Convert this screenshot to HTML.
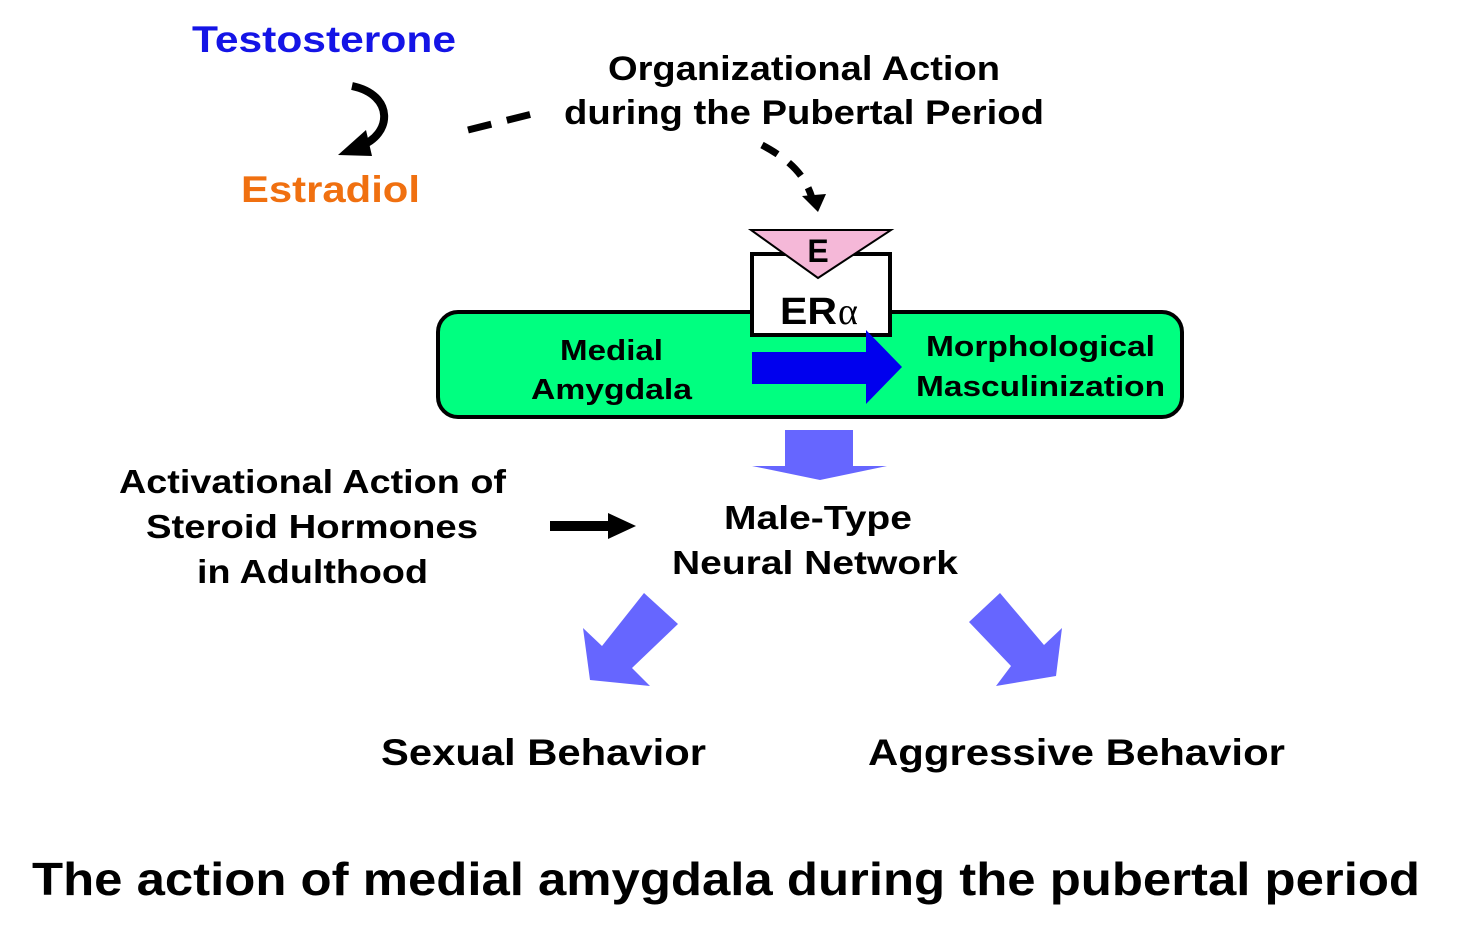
<!DOCTYPE html>
<html><head><meta charset="utf-8"><style>
body{margin:0;background:#fff;}
svg text{font-family:"Liberation Sans",Arial,sans-serif;font-weight:bold;}
</style></head><body>
<svg width="1465" height="937" viewBox="0 0 1465 937" xmlns="http://www.w3.org/2000/svg">
<text x="192" y="52" font-size="37" fill="#1414e6" textLength="264" lengthAdjust="spacingAndGlyphs">Testosterone</text>
<text x="241" y="202" font-size="37" fill="#f07010" textLength="179" lengthAdjust="spacingAndGlyphs">Estradiol</text>
<path d="M352,86 C395,95 392,135 360,146" fill="none" stroke="#000" stroke-width="8"/>
<polygon points="338,155 366,130 372,156" fill="#000"/>
<line x1="468" y1="130" x2="532" y2="114" stroke="#000" stroke-width="7" stroke-dasharray="24,16"/>
<text x="608" y="80" font-size="34" fill="#000" textLength="392" lengthAdjust="spacingAndGlyphs">Organizational Action</text>
<text x="564" y="124" font-size="34" fill="#000" textLength="480" lengthAdjust="spacingAndGlyphs">during the Pubertal Period</text>
<path d="M762,145 C790,160 805,175 812,198" fill="none" stroke="#000" stroke-width="7" stroke-dasharray="18,14"/>
<polygon points="802,196 826,194 818,212" fill="#000"/>
<rect x="438" y="312" width="744" height="105" rx="20" fill="#00ff80" stroke="#000" stroke-width="4"/>
<rect x="752" y="254" width="138" height="81" fill="#fff" stroke="#000" stroke-width="4"/>
<polygon points="751,230 891,230 818,278" fill="#f5b8d8" stroke="#000" stroke-width="2"/>
<text x="818" y="262" font-size="32" fill="#000" text-anchor="middle">E</text>
<text x="780" y="324" font-size="38" fill="#000" textLength="57" lengthAdjust="spacingAndGlyphs">ER</text><text x="838" y="324" font-size="38" fill="#000" style="font-family:'Liberation Serif',serif;font-weight:normal">α</text>
<text x="560" y="360" font-size="29" fill="#000" textLength="103" lengthAdjust="spacingAndGlyphs">Medial</text>
<text x="531" y="399" font-size="29" fill="#000" textLength="161" lengthAdjust="spacingAndGlyphs">Amygdala</text>
<text x="926" y="356" font-size="29" fill="#000" textLength="229" lengthAdjust="spacingAndGlyphs">Morphological</text>
<text x="916" y="396" font-size="29" fill="#000" textLength="249" lengthAdjust="spacingAndGlyphs">Masculinization</text>
<polygon points="752,352 866,352 866,330 902,367 866,404 866,384 752,384" fill="#0000ee"/>
<polygon points="785,430 853,430 853,466 887,466 820,480 752,466 785,466" fill="#6666ff"/>
<text x="119" y="493" font-size="33" fill="#000" textLength="387" lengthAdjust="spacingAndGlyphs">Activational Action of</text>
<text x="146" y="538" font-size="33" fill="#000" textLength="332" lengthAdjust="spacingAndGlyphs">Steroid Hormones</text>
<text x="197" y="583" font-size="33" fill="#000" textLength="231" lengthAdjust="spacingAndGlyphs">in Adulthood</text>
<polygon points="550,521 608,521 608,513 636,526 608,539 608,531 550,531" fill="#000"/>
<text x="724" y="529" font-size="33" fill="#000" textLength="188" lengthAdjust="spacingAndGlyphs">Male-Type</text>
<text x="672" y="574" font-size="33" fill="#000" textLength="286" lengthAdjust="spacingAndGlyphs">Neural Network</text>
<polygon points="644,593 678,624 632,668 650,686 590,680 583,628 602,646" fill="#6666ff"/>
<polygon points="1000,593 969,622 1011,666 996,686 1056,676 1062,628 1044,645" fill="#6666ff"/>
<text x="381" y="765" font-size="37" fill="#000" textLength="325" lengthAdjust="spacingAndGlyphs">Sexual Behavior</text>
<text x="868" y="765" font-size="37" fill="#000" textLength="417" lengthAdjust="spacingAndGlyphs">Aggressive Behavior</text>
<text x="32" y="895" font-size="46" fill="#000" textLength="1388" lengthAdjust="spacingAndGlyphs">The action of medial amygdala during the pubertal period</text>
</svg>
</body></html>
